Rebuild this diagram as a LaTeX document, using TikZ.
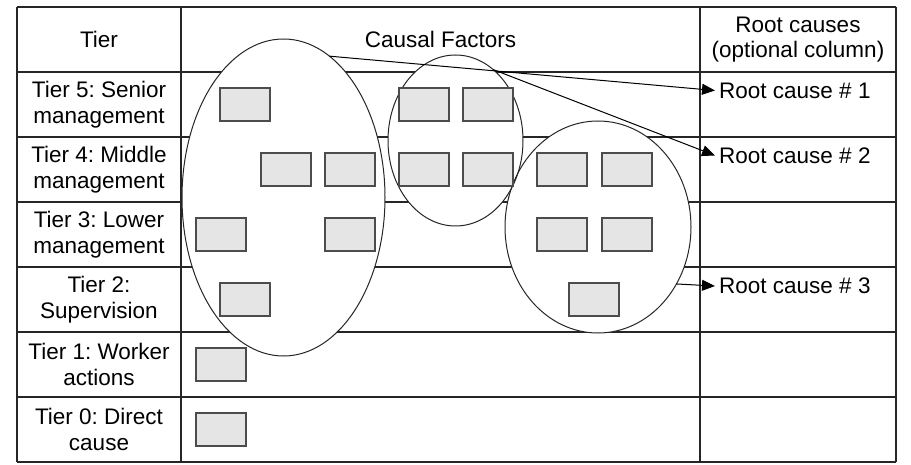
\documentclass[tikz,border=0pt]{standalone}
\usepackage{fontspec}
\setmainfont{Liberation Sans}
\usetikzlibrary{shapes.geometric,arrows.meta}
\frenchspacing
\tikzset{
  label/.style={align=center, inner sep=0pt, font=\fontsize{22.5}{25.5}\selectfont},
  cause/.style={anchor=west, inner sep=4pt, font=\fontsize{22.5}{25.5}\selectfont},
  factor/.style={draw=black!70, fill=black!10, line width=1.2pt, minimum width=50pt, minimum height=33pt, inner sep=0pt, outer sep=0pt},
  group/.style={ellipse, draw=black!85, line width=1pt, inner sep=0pt, outer sep=0pt},
  link/.style={line width=1pt, -{Triangle[length=13pt,width=11pt]}}
}
\begin{document}
\begin{tikzpicture}[x=1pt, y=-1pt]
        \useasboundingbox (0,0) rectangle (911,465);
        % x line
        \foreach \y in {7,72,137,202,267,332,397,462}
            \draw [line width=1.2pt, black!85] (17,\y) -- (896,\y);
        % y line
        \foreach \x in {17,181,700,896}
            \draw [line width=1.2pt, black!85] (\x,7) -- (\x,462);
        % lecter
        \node [label] (tier) at (99,39.5) {Tier};
        \node [label] (factors) at (440.5,39.5) {Causal Factors};
        \node [label] (roots) at (798,39.5) {Root causes\\(optional column)};
        \node [label] (t5) at (99,104.5) {Tier 5: Senior\\management};
        \node [label] (t4) at (99,169.5) {Tier 4: Middle\\management};
        \node [label] (t3) at (99,234.5) {Tier 3: Lower\\management};
        \node [label] (t2) at (99,299.5) {Tier 2:\\Supervision};
        \node [label] (t1) at (99,364.5) {Tier 1: Worker\\actions};
        \node [label] (t0) at (99,429.5) {Tier 0: Direct\\cause};
        \node [cause] (rc1) at (715,90.5) {Root cause \# 1};
        \node [cause] (rc2) at (715,155.5) {Root cause \# 2};
        \node [cause] (rc3) at (715,286) {Root cause \# 3};
        % groups
        \foreach \cx/\cy/\rx/\ry in {283.5/197.5/101.5/158.5, 455.5/140.5/67.5/85.5, 598/227/93/106}
            \fill [white] (\cx,\cy) ellipse [x radius=\rx pt, y radius=\ry pt];
        \node [group, minimum width=203pt, minimum height=317pt] (grpA) at (283.5,197.5) {};
        \node [group, minimum width=135pt, minimum height=171pt] (grpB) at (455.5,140.5) {};
        \node [group, minimum width=186pt, minimum height=212pt] (grpC) at (598,227) {};
        % point
        \foreach \x [count=\i] in {245,424,488} \node [factor] (f5-\i) at (\x,104.5) {};
        \foreach \x [count=\i] in {286,350,424,488,562,627} \node [factor] (f4-\i) at (\x,169.5) {};
        \foreach \x [count=\i] in {221,350,562,627} \node [factor] (f3-\i) at (\x,234.5) {};
        \foreach \x [count=\i] in {245,594} \node [factor] (f2-\i) at (\x,299.5) {};
        \node [factor] (f1-1) at (221,364.5) {};
        \node [factor] (f0-1) at (221,429.5) {};
        % arrows
        \draw [link] (grpA.72.7) -- (rc1.west);
        \draw [link] (grpB.62) -- (rc2.west);
        \draw [link] (grpC.-36) -- (rc3.west);
\end{tikzpicture}
\end{document}
